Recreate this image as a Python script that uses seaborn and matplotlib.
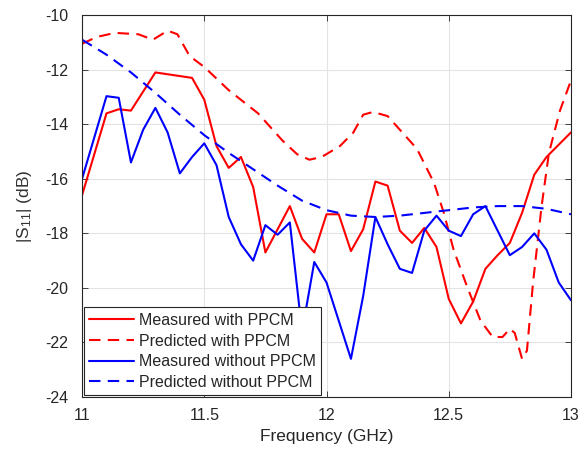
import matplotlib
matplotlib.use("Agg")
import matplotlib.pyplot as plt
import seaborn as sns
import pandas as pd

# Measured with PPCM
meas_with_x = [11.0, 11.1, 11.15, 11.2, 11.3, 11.45, 11.5, 11.55, 11.6, 11.65, 11.7, 11.75,
               11.85, 11.9, 11.95, 12.0, 12.05, 12.1, 12.15, 12.2, 12.25, 12.3, 12.35, 12.4,
               12.45, 12.5, 12.55, 12.6, 12.65, 12.7, 12.75, 12.8, 12.85, 12.9, 13.0]
meas_with_y = [-16.6, -13.6, -13.45, -13.5, -12.1, -12.3, -13.1, -14.8, -15.6, -15.2, -16.3, -18.7,
               -17.0, -18.2, -18.7, -17.3, -17.3, -18.65, -17.85, -16.1, -16.25, -17.9, -18.35, -17.8,
               -18.5, -20.4, -21.3, -20.5, -19.3, -18.8, -18.35, -17.25, -15.85, -15.2, -14.3]

# Predicted with PPCM
pred_with_x = [11.0, 11.06, 11.135, 11.23, 11.29, 11.35, 11.39, 11.44, 11.5, 11.6, 11.72, 11.82,
               11.88, 11.93, 11.98, 12.055, 12.11, 12.15, 12.19, 12.25, 12.3, 12.37, 12.44, 12.48,
               12.52, 12.575, 12.63, 12.68, 12.72, 12.75, 12.77, 12.80, 12.82, 12.845, 12.88,
               12.91, 12.955, 13.0]
pred_with_y = [-11.05, -10.8, -10.65, -10.7, -10.9, -10.57, -10.7, -11.5, -11.9, -12.75, -13.6, -14.6,
               -15.1, -15.3, -15.2, -14.8, -14.3, -13.65, -13.55, -13.7, -14.2, -14.9, -16.15, -17.25,
               -18.6, -19.95, -21.2, -21.8, -21.8, -21.5, -21.65, -22.6, -22.3, -19.8, -17.0,
               -15.05, -13.5, -12.4]

# Measured without PPCM
meas_wo_x = [11.0, 11.1, 11.15, 11.2, 11.25, 11.3, 11.35, 11.4, 11.45, 11.5, 11.55, 11.6, 11.65,
             11.7, 11.75, 11.8, 11.85, 11.9, 11.95, 12.0, 12.1, 12.15, 12.2, 12.25, 12.3, 12.35,
             12.4, 12.45, 12.5, 12.55, 12.6, 12.65, 12.7, 12.75, 12.8, 12.85, 12.9, 12.95, 13.0]
meas_wo_y = [-16.0, -12.97, -13.03, -15.4, -14.2, -13.4, -14.3, -15.8, -15.2, -14.7, -15.5, -17.4, -18.4,
             -19.0, -17.7, -18.05, -17.6, -21.6, -19.05, -19.8, -22.6, -20.3, -17.4, -18.4, -19.3, -19.45,
             -17.9, -17.35, -17.9, -18.1, -17.3, -17.0, -17.9, -18.8, -18.5, -18.0, -18.6, -19.8, -20.45]

# Predicted without PPCM
pred_wo_x = [11.0, 11.1, 11.2, 11.3, 11.4, 11.5, 11.6, 11.7, 11.8, 11.9, 12.0, 12.1, 12.2, 12.3,
             12.4, 12.5, 12.6, 12.7, 12.8, 12.9, 13.0]
pred_wo_y = [-10.9, -11.45, -12.1, -12.85, -13.65, -14.4, -15.05, -15.65, -16.25, -16.8, -17.15,
             -17.35, -17.4, -17.35, -17.25, -17.15, -17.05, -17.0, -17.0, -17.1, -17.3]

labels = ["Measured with PPCM", "Predicted with PPCM", "Measured without PPCM", "Predicted without PPCM"]
xticks = [11, 11.5, 12, 12.5, 13]
xticklabels = ["11", "11.5", "12", "12.5", "13"]
yticks = [-24, -22, -20, -18, -16, -14, -12, -10]

sns.set_theme(style="whitegrid")
plt.rcParams['font.family'] = ['Liberation Sans', 'DejaVu Sans']
plt.rcParams['mathtext.fontset'] = 'custom'
plt.rcParams['mathtext.rm'] = 'Liberation Sans'
plt.rcParams['mathtext.it'] = 'Liberation Sans'
plt.rcParams['axes.unicode_minus'] = False

fig = plt.figure(figsize=(5.82, 4.59), dpi=100)
ax = fig.add_axes([0.141, 0.135, 0.840, 0.832])

series = [
    (meas_with_x, meas_with_y, "red", "-"),
    (pred_with_x, pred_with_y, "red", "--"),
    (meas_wo_x, meas_wo_y, "blue", "-"),
    (pred_wo_x, pred_wo_y, "blue", "--"),
]
for (xs, ys, c, ls), lab in zip(series, labels):
    df = pd.DataFrame({"f": xs, "s": ys})
    sns.lineplot(data=df, x="f", y="s", ax=ax, color=c, linewidth=1.5,
                 label=lab, sort=False)
    ax.lines[-1].set_linestyle(ls)
    if ls == "--":
        ax.lines[-1].set_dashes([5.5, 3.5])

ax.set_xlim(11, 13)
ax.set_ylim(-24, -10)
ax.set_xticks(xticks)
ax.set_xticklabels(xticklabels)
ax.set_yticks(yticks)
ax.set_xlabel("Frequency (GHz)", fontsize=12.5, color="#262626", labelpad=4)
ax.set_ylabel("|S$_{11}$| (dB)", fontsize=12.5, color="#333333", labelpad=8)
ax.set_facecolor("white")
ax.grid(True, color="#e3e3e3", linewidth=0.8)
for sp in ax.spines.values():
    sp.set_color("#262626")
    sp.set_linewidth(0.8)
    sp.set_visible(True)
ax.tick_params(axis="both", direction="in", length=4, width=0.6, colors="#262626",
               labelsize=11.5, top=True, right=True, bottom=True, left=True)
ax.tick_params(axis="x", pad=8)
ax.tick_params(axis="y", pad=10)
for l in ax.get_xticklabels() + ax.get_yticklabels():
    l.set_color("#262626")

leg = ax.legend(loc="lower left", fontsize=11.5, frameon=True, fancybox=False,
                borderaxespad=0.1, handlelength=2.8, labelspacing=0.35, borderpad=0.35,
                handletextpad=0.3)
leg.get_frame().set_edgecolor("#262626")
leg.get_frame().set_linewidth(0.8)
leg.get_frame().set_alpha(1.0)
for h, ls in zip(leg.get_lines(), ["-", "--", "-", "--"]):
    h.set_linestyle(ls)
    if ls == "--":
        h.set_dashes([5.5, 3.5])

fig.savefig("out.png", dpi=100, facecolor="white")
